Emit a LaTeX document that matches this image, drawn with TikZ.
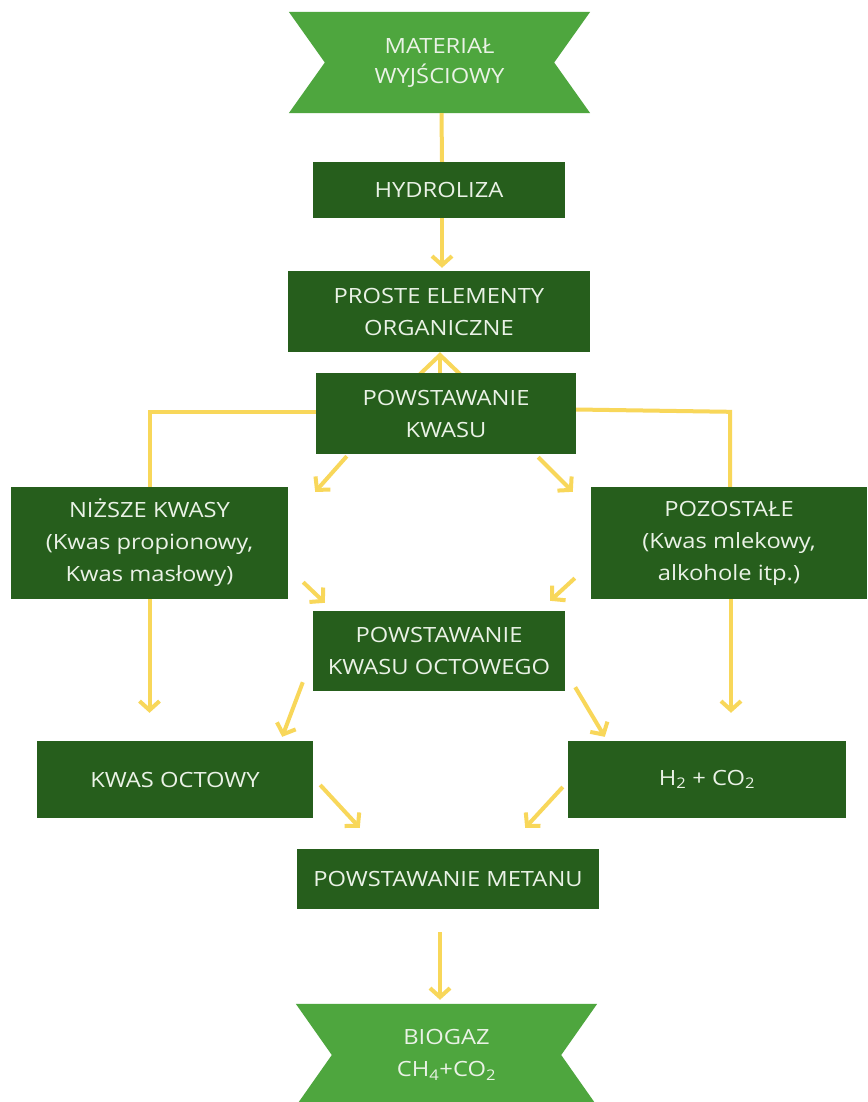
\documentclass[tikz,border=0pt]{standalone}
\usepackage{fontspec}
\setmainfont{Open Sans}[FakeStretch=1.13]
\usetikzlibrary{arrows.meta,calc,backgrounds}
\definecolor{lg}{HTML}{4EA63E}
\definecolor{dg}{HTML}{265E1C}
\definecolor{yl}{HTML}{F8D75A}
\definecolor{tx}{HTML}{EAF2E6}
\tikzset{
  txt/.style={text=tx, align=center, inner sep=0pt, font=\fontsize{21}{32}\selectfont},
  box/.style={txt, fill=dg},
  ban/.style={txt, minimum width=301pt},
  conn/.style={draw=yl, line width=4pt},
  arr/.style={conn, -{Straight Barb[length=9pt,width=20pt]}},
}
\begin{document}
\begin{tikzpicture}[x=1pt,y=-1pt]
\useasboundingbox (0,0) rectangle (867,1102);
\clip (0,0) rectangle (867,1102);
% nodes
\node[ban, minimum height=101pt, font=\fontsize{21}{30}\selectfont] (top) at (439.5,62.5) {MATERIAŁ\\WYJŚCIOWY};
\node[box, minimum width=252pt, minimum height=56pt] (hydro) at (439,190) {HYDROLIZA};
\node[box, minimum width=302pt, minimum height=81pt] (proste) at (439,311.5) {PROSTE ELEMENTY\\ORGANICZNE};
\node[box, minimum width=260pt, minimum height=81pt] (kwas) at (446,413.5) {POWSTAWANIE\\KWASU};
\node[box, minimum width=277pt, minimum height=112pt] (nizsze) at (149.5,543) {NIŻSZE KWASY\\(Kwas propionowy,\\Kwas masłowy)};
\node[box, minimum width=276pt, minimum height=112pt] (pozost) at (729,543) {POZOSTAŁE\\(Kwas mlekowy,\\alkohole itp.)};
\node[box, minimum width=252pt, minimum height=80pt] (octowego) at (439,651) {POWSTAWANIE\\KWASU OCTOWEGO};
\node[box, minimum width=276pt, minimum height=77pt] (octowy) at (175,779.5) {KWAS OCTOWY};
\node[box, minimum width=278pt, minimum height=77pt] (h2) at (707,779.5) {H\textsubscript{2} + CO\textsubscript{2}};
\node[box, minimum width=302pt, minimum height=60pt] (metanu) at (448,879) {POWSTAWANIE METANU};
\node[ban, minimum height=102pt] (bio) at (446.5,1055) {BIOGAZ\\CH\textsubscript{4}+CO\textsubscript{2}};
\begin{pgfonlayer}{background}
\fill[white] (0,0) rectangle (867,1102);
\fill[lg] (top.north west) -- (top.north east) -- ($(top.east)+(-36,0)$) -- (top.south east)
  -- (top.south west) -- ($(top.west)+(36,0)$) -- cycle;
\fill[lg] (bio.north west) -- (bio.north east) -- ($(bio.east)+(-36,0)$) -- (bio.south east)
  -- (bio.south west) -- ($(bio.west)+(36,0)$) -- cycle;
% connectors
\draw[conn] ($(top.south)+(2,0)$) -- ($(hydro.north)+(3,0)$);
\draw[arr] ($(hydro.south)+(3,0)$) -- ($(proste.north)+(3,-3)$);
\draw[conn, -{Straight Barb[length=22pt,width=46pt]}] ($(proste.south)+(1,60)$) -- ($(proste.south)+(1,0)$);
\draw[conn] ($(kwas.west)+(0,-1.5)$) -| (nizsze.north);
\draw[conn] ($(kwas.east)+(0,-4)$) -- ($(pozost.north)+(1,-75)$) -- ($(pozost.north)+(1,0)$);
\draw[arr] ($(kwas.south west)+(31,2)$) -- ($(nizsze.north east)+(27,5)$);
\draw[arr] ($(kwas.south east)+(-38,3)$) -- ($(pozost.north west)+(-18,5)$);
\draw[arr] ($(nizsze.south east)+(15,-17)$) -- ($(octowego.north west)+(12,-8)$);
\draw[arr] ($(pozost.south west)+(-16,-21)$) -- ($(octowego.north east)+(-15,-10)$);
\draw[arr] (nizsze.south) -- ($(nizsze.south |- octowy.north)+(0,-28)$);
\draw[arr] ($(pozost.south)+(2,0)$) -- ($(pozost.south |- h2.north)+(2,-28)$);
\draw[arr] ($(octowego.south west)+(-10,-9)$) -- ($(octowy.north east)+(-31,-4)$);
\draw[arr] ($(octowego.south east)+(10,-4)$) -- ($(h2.north west)+(37,-4)$);
\draw[arr] ($(octowy.east)+(7,5.5)$) -- ($(metanu.north west)+(63,-21)$);
\draw[arr] ($(h2.west)+(-5,7.5)$) -- ($(metanu.north east)+(-74,-21)$);
\draw[arr] ($(metanu.south)+(-8,23)$) -- ($(bio.north)+(-6.5,-4)$);
\end{pgfonlayer}
\end{tikzpicture}
\end{document}
